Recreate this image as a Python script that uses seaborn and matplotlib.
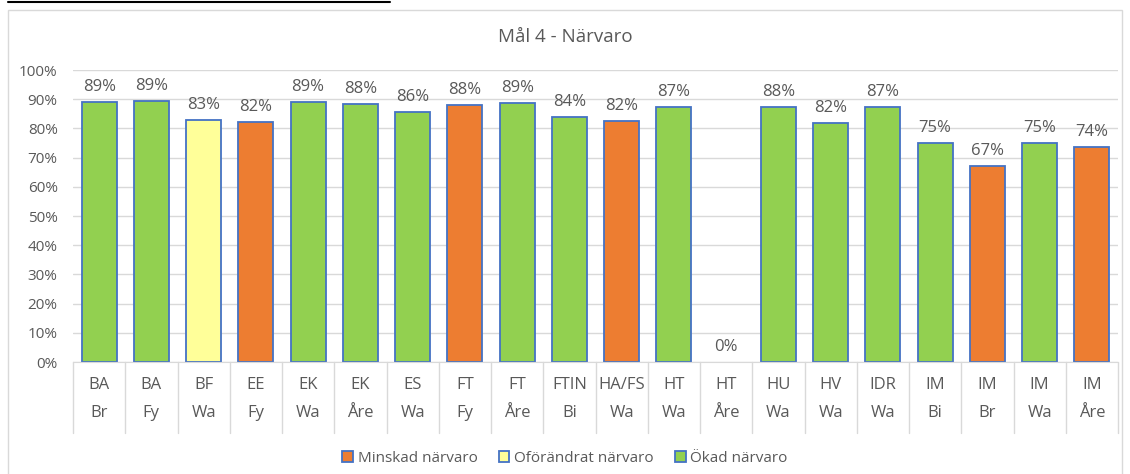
import matplotlib.pyplot as plt
import matplotlib.patches as mpatches
import matplotlib.lines as mlines
import matplotlib.transforms as mtransforms
import pandas as pd
import seaborn as sns

# Data
program = ['BA', 'BA', 'BF', 'EE', 'EK', 'EK', 'ES', 'FT', 'FT', 'FTIN',
           'HA/FS', 'HT', 'HT', 'HU', 'HV', 'IDR', 'IM', 'IM', 'IM', 'IM']
ort = ['Br', 'Fy', 'Wa', 'Fy', 'Wa', 'Åre', 'Wa', 'Fy', 'Åre', 'Bi',
       'Wa', 'Wa', 'Åre', 'Wa', 'Wa', 'Wa', 'Bi', 'Br', 'Wa', 'Åre']
narvaro = [0.890, 0.893, 0.830, 0.823, 0.890, 0.885, 0.856, 0.879, 0.886, 0.838,
           0.825, 0.874, 0.0, 0.875, 0.818, 0.874, 0.751, 0.670, 0.751, 0.735]
status = ['Ökad närvaro', 'Ökad närvaro', 'Oförändrat närvaro', 'Minskad närvaro',
          'Ökad närvaro', 'Ökad närvaro', 'Ökad närvaro', 'Minskad närvaro',
          'Ökad närvaro', 'Ökad närvaro', 'Minskad närvaro', 'Ökad närvaro',
          'Ökad närvaro', 'Ökad närvaro', 'Ökad närvaro', 'Ökad närvaro',
          'Ökad närvaro', 'Minskad närvaro', 'Ökad närvaro', 'Minskad närvaro']
status_order = ['Minskad närvaro', 'Oförändrat närvaro', 'Ökad närvaro']
colors = ['#ED7D31', '#FFFF99', '#92D050']

df = pd.DataFrame({'key': [f'{p}|{o}|{i}' for i, (p, o) in enumerate(zip(program, ort))],
                   'value': narvaro, 'status': status})

sns.set_style('white')
plt.rcParams['font.family'] = ['Open Sans', 'DejaVu Sans']
text_color = '#595959'
fs = 12

fig = plt.figure(figsize=(11.3, 4.74), dpi=100)
ax = fig.add_axes([73 / 1130, 1 - 362 / 474, (1118 - 73) / 1130, 292 / 474])

sns.barplot(data=df, x='key', y='value', hue='status', hue_order=status_order,
            palette=colors, saturation=1, dodge=False, width=0.67,
            edgecolor='#4472C4', linewidth=1.3, ax=ax, legend=True)

for cont in ax.containers:
    for b in cont:
        if b.get_height() == 0:
            b.set_linewidth(0)
    ax.bar_label(cont, labels=[f'{b.get_height():.0%}' for b in cont],
                 padding=5, fontsize=fs, color=text_color)

ax.set_ylim(0, 1)
ax.set_xlim(-0.5, len(program) - 0.5)
ax.set_yticks([i / 10 for i in range(11)])
ax.set_yticklabels([f'{i * 10}%' for i in range(11)], fontsize=11, color=text_color)
ax.yaxis.grid(True, color='#D9D9D9', linewidth=1)
ax.set_axisbelow(True)
ax.set_xticks([])
ax.set_xlabel('')
ax.set_ylabel('')
for s in ['top', 'right', 'left']:
    ax.spines[s].set_visible(False)
ax.spines['bottom'].set_color('#D9D9D9')
ax.tick_params(axis='y', length=0, pad=11)

# two-level category labels with separators
trans = mtransforms.blended_transform_factory(ax.transData, fig.transFigure)
for i, (p, o) in enumerate(zip(program, ort)):
    ax.text(i, 1 - 385 / 474, p, transform=trans, ha='center', va='center',
            fontsize=fs, color=text_color)
    ax.text(i, 1 - 413 / 474, o, transform=trans, ha='center', va='center',
            fontsize=fs, color=text_color)
for i in range(len(program) + 1):
    ax.add_line(mlines.Line2D([i - 0.5, i - 0.5], [1 - 362 / 474, 1 - 433 / 474],
                              transform=trans, color='#D9D9D9', linewidth=1,
                              clip_on=False))

fig.text(0.5, 1 - 37 / 474, 'Mål 4 - Närvaro', ha='center', va='center',
         fontsize=13.5, color=text_color)

handles, labels = ax.get_legend_handles_labels()
ax.get_legend().remove()
fig.legend(handles, labels, loc='center', bbox_to_anchor=(0.5, 1 - 458 / 474),
           ncol=3, frameon=False, fontsize=11, labelcolor=text_color,
           handlelength=0.7, handleheight=0.7, handletextpad=0.3, columnspacing=1.4)

# chart frame and caption underline
fig.add_artist(mpatches.Rectangle((8 / 1130, -0.01), 1114 / 1130, 1 - 10 / 474 + 0.01,
                                  transform=fig.transFigure, fill=False,
                                  edgecolor='#D9D9D9', linewidth=1))
fig.add_artist(mlines.Line2D([8 / 1130, 390 / 1130], [1 - 2 / 474, 1 - 2 / 474],
                             transform=fig.transFigure, color='black', linewidth=1.5))

fig.savefig('out.png', dpi=100)
